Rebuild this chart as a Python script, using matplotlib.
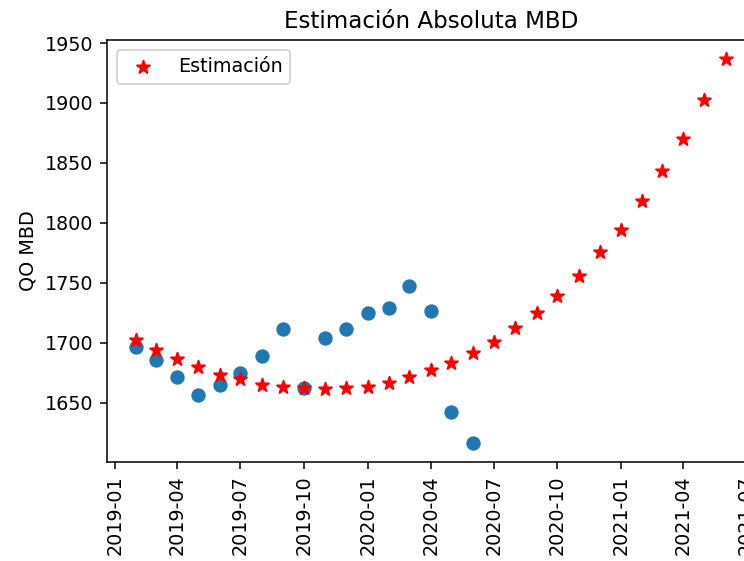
import numpy as np
import pandas as pd
import matplotlib
matplotlib.use("Agg")
from matplotlib import pyplot as plt
import matplotlib.dates as mdates

# observed production (MBD), monthly from 2019-02 to 2020-06
real_dates = pd.date_range("2019-02-01", "2020-06-01", freq="MS")
real_values = [1696.7, 1685.6, 1671.1, 1656.7, 1664.4, 1675.0, 1688.9, 1711.4,
               1661.9, 1703.6, 1711.4, 1724.7, 1729.2, 1747.2, 1726.4, 1642.2,
               1616.4]

# estimation, monthly from 2019-02 to 2021-06
est_dates = pd.date_range("2019-02-01", "2021-06-01", freq="MS")
est_values = [1702.2, 1693.9, 1686.1, 1679.4, 1672.8, 1670.0, 1664.7, 1663.3,
              1661.9, 1661.7, 1661.9, 1663.3, 1666.1, 1671.4, 1676.9, 1683.1,
              1691.4, 1700.8, 1712.2, 1724.7, 1739.2, 1755.8, 1775.3, 1794.2,
              1818.3, 1842.8, 1870.0, 1902.2, 1936.5]

DPI = 138
fig = plt.figure(figsize=(744 / DPI, 561 / DPI), dpi=DPI)
# the original was cropped: the axes run past the right edge of the image
ax = fig.add_axes([0.1438, 0.1765, 0.871, 0.7522])

ax.scatter(real_dates, real_values, s=42, color="#1f77b4")
ax.scatter(est_dates, est_values, s=50, marker="*", color="red", label="Estimación")

ax.xaxis.set_major_locator(mdates.MonthLocator(bymonth=[1, 4, 7, 10]))
ax.xaxis.set_major_formatter(mdates.DateFormatter("%Y-%m"))
plt.setp(ax.get_xticklabels(), rotation=90)

ax.set_title("Estimación Absoluta MBD")
ax.set_ylabel("QO MBD")
ax.legend(loc="upper left")

fig.savefig("out.png", dpi=DPI)
